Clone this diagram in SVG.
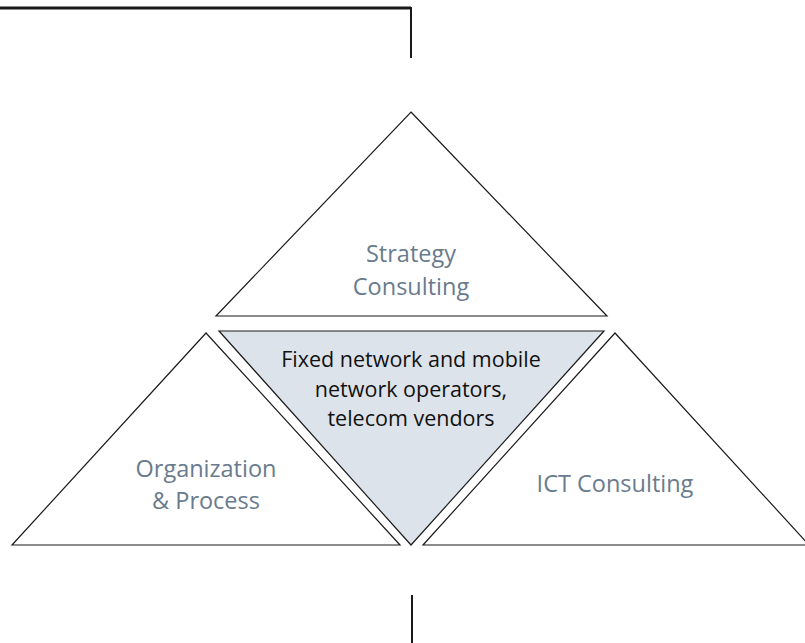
<svg xmlns="http://www.w3.org/2000/svg" width="805" height="643" viewBox="0 0 805 643">
<style>
.tri{fill:#ffffff;stroke:#1a1a1a;stroke-width:1.2;stroke-linejoin:miter}
.core{fill:#dde3ea;stroke:#1a1a1a;stroke-width:1.2}
.lbl{font-family:"Open Sans","Noto Sans",sans-serif;font-size:23.5px;fill:#697b8c;text-anchor:middle}
.ctr{font-family:"Open Sans","Noto Sans",sans-serif;font-size:21.5px;fill:#111111;text-anchor:middle}
.frame{fill:none;stroke:#1a1a1a}
</style>
<rect width="805" height="643" fill="#ffffff"/>
<g id="connectors">
<polyline class="frame" points="0,8 411,8" stroke-width="3"/>
<line class="frame" x1="411" y1="7" x2="411" y2="58" stroke-width="2"/>
<line class="frame" x1="412" y1="595" x2="412" y2="643" stroke-width="2"/>
</g>
<g id="strategy">
<polygon class="tri" points="411,112 607,316 216,316"/>
<text class="lbl" x="411" y="262">Strategy</text>
<text class="lbl" x="411" y="295">Consulting</text>
</g>
<g id="center">
<polygon class="core" points="219,331 604,331 411,545"/>
<text class="ctr" x="411" y="367">Fixed network and mobile</text>
<text class="ctr" x="411" y="397">network operators,</text>
<text class="ctr" x="411" y="426">telecom vendors</text>
</g>
<g id="organization">
<polygon class="tri" points="206,333 400,545 12,545"/>
<text class="lbl" x="206" y="477">Organization</text>
<text class="lbl" x="206" y="509">&amp; Process</text>
</g>
<g id="ict">
<polygon class="tri" points="615,333 809,545 423,545"/>
<text class="lbl" x="615" y="492">ICT Consulting</text>
</g>
</svg>
